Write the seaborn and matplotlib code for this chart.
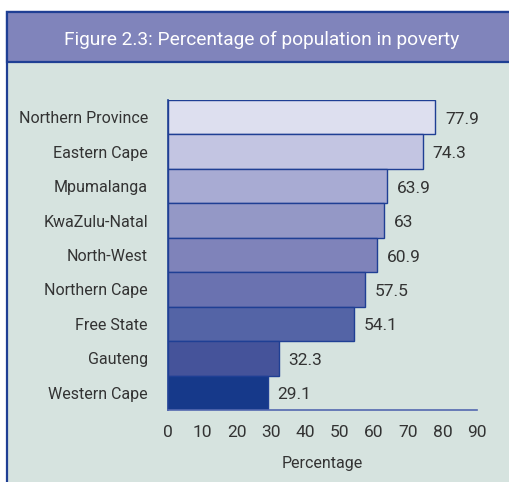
import matplotlib
matplotlib.use("Agg")
import matplotlib.pyplot as plt
from matplotlib.patches import Rectangle
import seaborn as sns
import pandas as pd

provinces = ["Northern Province", "Eastern Cape", "Mpumalanga", "KwaZulu-Natal",
             "North-West", "Northern Cape", "Free State", "Gauteng", "Western Cape"]
poverty_pct = [77.9, 74.3, 63.9, 63, 60.9, 57.5, 54.1, 32.3, 29.1]
value_labels = ["77.9", "74.3", "63.9", "63", "60.9", "57.5", "54.1", "32.3", "29.1"]
x_ticks = [0, 10, 20, 30, 40, 50, 60, 70, 80, 90]
bar_colors = ["#DDDFEF", "#C3C5E2", "#A8ABD3", "#9498C6", "#7F83BA",
              "#6A72B0", "#5464A6", "#45539A", "#16398A"]

sns.set_theme(style="white")
plt.rcParams["font.family"] = ["Roboto", "DejaVu Sans"]

df = pd.DataFrame({"Province": provinces, "Percentage": poverty_pct})

W, H = 509, 482
fig = plt.figure(figsize=(W / 100, H / 100), dpi=100)
fig.patch.set_facecolor("white")

# framed panel with a title band
border = "#1F3F94"
fig.patches.append(Rectangle((7 / W, -0.2), 1.2, 1.2 - 12 / H, transform=fig.transFigure,
                             facecolor="#D6E3DF", edgecolor=border, linewidth=1.6, zorder=-2))
fig.patches.append(Rectangle((7 / W, 1 - 62 / H), 1.2, 50 / H, transform=fig.transFigure,
                             facecolor="#8084BB", edgecolor=border, linewidth=1.6, zorder=-1))
fig.text(262 / W, 1 - 40 / H, "Figure 2.3: Percentage of population in poverty",
         ha="center", va="center", color="white", fontsize=13.8)

ax = fig.add_axes([168 / W, 1 - 410 / H, (477 - 168) / W, (410 - 100) / H])
ax.set_facecolor("none")
sns.barplot(data=df, x="Percentage", y="Province", hue="Province", palette=bar_colors,
            saturation=1, orient="h", width=1.0, edgecolor=border, linewidth=1.0,
            legend=False, ax=ax)

for cont, lab in zip(ax.containers, value_labels):
    texts = ax.bar_label(cont, labels=[lab], padding=7, fontsize=12.5, color="#333333")
    for t in texts:
        # sit the value a touch below the bar centre
        x, y = t.xyann
        t.xyann = (x, y - 1.5)

ax.set_xlim(0, 90)
ax.set_ylim(len(provinces) - 0.5, -0.5)
ax.set_xticks(x_ticks)
ax.set_xticklabels([str(t) for t in x_ticks], fontsize=12.5, color="#333333")
ax.tick_params(axis="y", labelsize=11.5, labelcolor="#333333", pad=14.5, length=0)
ax.tick_params(axis="x", pad=8, length=3, direction="out", color="#5468B0")
ax.set_xlabel("Percentage", fontsize=11.5, color="#333333", labelpad=11)
ax.set_ylabel("")
for s in ["top", "right"]:
    ax.spines[s].set_visible(False)
ax.spines["left"].set_color(border)
ax.spines["bottom"].set_color("#5468B0")
ax.spines["left"].set_linewidth(1.2)
ax.spines["bottom"].set_linewidth(1.2)

fig.savefig("out.png", dpi=100)
